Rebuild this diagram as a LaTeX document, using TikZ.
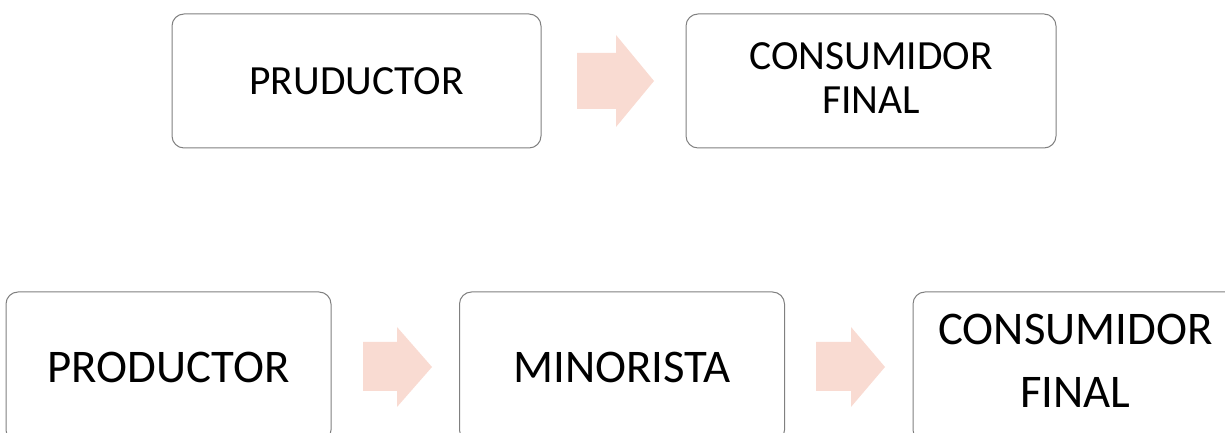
\documentclass[tikz,border=0pt]{standalone}
\usepackage{fontspec}
\setmainfont{Carlito}
\definecolor{boxline}{HTML}{808080}
\definecolor{arrowfill}{HTML}{F9DBD2}
\begin{document}
\begin{tikzpicture}[x=1pt,y=1pt,
  flowbox/.style={draw=boxline, line width=1pt, rounded corners=12pt, fill=white,
    align=center, inner sep=0pt, text=black},
  topbox/.style={flowbox, minimum width=369pt, minimum height=134pt,
    font=\fontsize{41.5}{44}\selectfont},
  botbox/.style={flowbox, minimum width=325pt, minimum height=150pt,
    font=\fontsize{46.8}{63}\selectfont},
  blockarrow/.style={fill=arrowfill, draw=none}]
\useasboundingbox (0,0) rectangle (1225,433);
\clip (0,0) rectangle (1225,433);
% top row
\node[topbox] (p1) at (356.5,352) {PRUDUCTOR};
\node[topbox, minimum width=370pt] (c1) at (871,352) {CONSUMIDOR\\FINAL\rule[-6pt]{0pt}{0pt}};
\fill[blockarrow] (577,380) -- (616,380) -- (616,398) -- (654,352) -- (616,306) -- (616,324) -- (577,324) -- cycle;
% bottom row
\node[botbox] (p2) at (168.5,66) {PRODUCTOR};
\node[botbox] (m2) at (622,66) {MINORISTA};
\node[botbox] (c2) at (1075.5,66) {CONSUMIDOR\\FINAL\rule[-13pt]{0pt}{0pt}};
\fill[blockarrow] (363,91) -- (397,91) -- (397,106) -- (432,66) -- (397,26) -- (397,42) -- (363,42) -- cycle;
\fill[blockarrow] (816,91) -- (851,91) -- (851,106) -- (885,66) -- (851,26) -- (851,42) -- (816,42) -- cycle;
\end{tikzpicture}
\end{document}
